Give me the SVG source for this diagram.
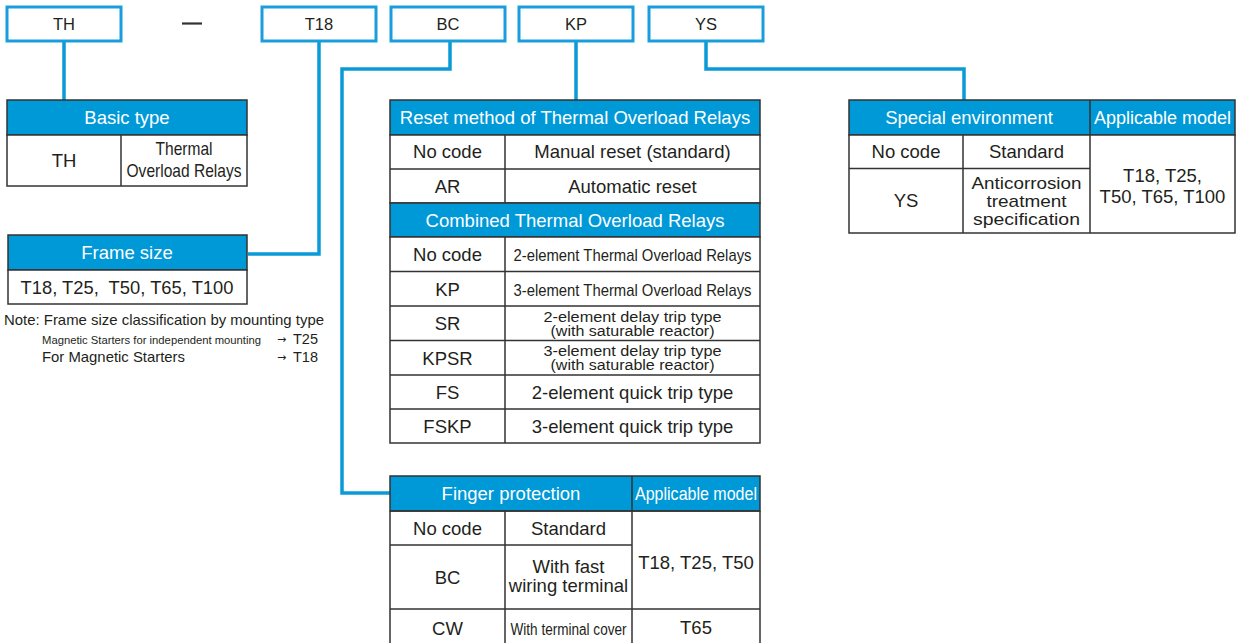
<svg xmlns="http://www.w3.org/2000/svg" width="1239" height="643" viewBox="0 0 1239 643">
<style>
text{font-family:"Liberation Sans",Arial,sans-serif;fill:#231f20;text-anchor:middle}
.code{font-size:16.5px}
.h{font-size:18.5px;fill:#fff}
.b{font-size:18.5px}
.s{font-size:14px}
.n{font-size:14.5px;text-anchor:start}
.ar{font-family:"DejaVu Sans",sans-serif;font-size:11px;text-anchor:start}
.top{fill:#fff;stroke:#1a9edb;stroke-width:3}
.hd{fill:#0099d8;stroke:#333;stroke-width:1.5}
.cell{fill:#fff;stroke:#333;stroke-width:1.5}
.ln{stroke:#333;stroke-width:1.5;fill:none}
.con{fill:none;stroke:#0a9ad8;stroke-width:3.5}
</style>
<rect width="1239" height="643" fill="#fff"/>

<g id="connectors">
<path class="con" d="M64 41V100"/>
<path class="con" d="M319 41V254H248"/>
<path class="con" d="M450 41V69H342V493H390"/>
<path class="con" d="M576 41V100"/>
<path class="con" d="M706 41V69H964V100"/>
</g>

<g id="code-TH"><rect class="top" x="7" y="7" width="114" height="34"/><text class="code" x="64" y="30">TH</text></g>
<g id="dash"><line x1="182" y1="23.5" x2="202" y2="23.5" stroke="#333" stroke-width="2.2"/></g>
<g id="code-T18"><rect class="top" x="262" y="7" width="114" height="34"/><text class="code" x="319" y="30">T18</text></g>
<g id="code-BC"><rect class="top" x="391" y="7" width="114" height="34"/><text class="code" x="448" y="30">BC</text></g>
<g id="code-KP"><rect class="top" x="519" y="7" width="114" height="34"/><text class="code" x="576" y="30">KP</text></g>
<g id="code-YS"><rect class="top" x="649" y="7" width="114" height="34"/><text class="code" x="706" y="30">YS</text></g>

<g id="basic-type">
<rect class="hd" x="7" y="100" width="240" height="35"/>
<text class="h" x="127" y="124">Basic type</text>
<rect class="cell" x="7" y="135" width="240" height="51"/>
<path class="ln" d="M121 135V186"/>
<text class="b" x="64" y="167">TH</text>
<text class="b" x="184" y="155" textLength="57" lengthAdjust="spacingAndGlyphs">Thermal</text>
<text class="b" x="184" y="177" textLength="115" lengthAdjust="spacingAndGlyphs">Overload Relays</text>
</g>

<g id="frame-size">
<rect class="hd" x="8" y="235" width="239" height="35"/>
<text class="h" x="127" y="259">Frame size</text>
<rect class="cell" x="8" y="270" width="239" height="34"/>
<text class="b" x="127" y="294" style="white-space:pre" textLength="213" lengthAdjust="spacingAndGlyphs">T18, T25,  T50, T65, T100</text>
</g>

<g id="note">
<text class="n" x="4" y="325" textLength="320" lengthAdjust="spacingAndGlyphs">Note: Frame size classification by mounting type</text>
<text class="n" x="42" y="344" style="font-size:11.5px" textLength="219" lengthAdjust="spacingAndGlyphs">Magnetic Starters for independent mounting</text>
<text class="ar" x="277" y="343">→</text>
<text class="n" x="293" y="344">T25</text>
<text class="n" x="42" y="362" textLength="143" lengthAdjust="spacingAndGlyphs">For Magnetic Starters</text>
<text class="ar" x="277" y="361">→</text>
<text class="n" x="293" y="362">T18</text>
</g>

<g id="reset-method">
<rect class="hd" x="390" y="100" width="370" height="35"/>
<text class="h" x="575" y="124">Reset method of Thermal Overload Relays</text>
<rect class="cell" x="390" y="135" width="370" height="68"/>
<path class="ln" d="M390 169H760M505 135V203"/>
<text class="b" x="447.5" y="158">No code</text>
<text class="b" x="632.5" y="158">Manual reset (standard)</text>
<text class="b" x="447.5" y="192.5">AR</text>
<text class="b" x="632.5" y="192.5">Automatic reset</text>
<rect class="hd" x="390" y="203" width="370" height="34"/>
<text class="h" x="575" y="227">Combined Thermal Overload Relays</text>
<rect class="cell" x="390" y="237" width="370" height="206"/>
<path class="ln" d="M390 271.5H760M390 306H760M390 340.5H760M390 375H760M390 409H760M505 237V443"/>
<text class="b" x="447.5" y="261">No code</text>
<text class="b" x="632.5" y="261" style="font-size:17px" textLength="238" lengthAdjust="spacingAndGlyphs">2-element Thermal Overload Relays</text>
<text class="b" x="447.5" y="295.5">KP</text>
<text class="b" x="632.5" y="295.5" style="font-size:17px" textLength="238" lengthAdjust="spacingAndGlyphs">3-element Thermal Overload Relays</text>
<text class="b" x="447.5" y="330">SR</text>
<text class="s" x="632.5" y="321.5" textLength="178" lengthAdjust="spacingAndGlyphs">2-element delay trip type</text>
<text class="s" x="632.5" y="335.5" textLength="164" lengthAdjust="spacingAndGlyphs">(with saturable reactor)</text>
<text class="b" x="447.5" y="364.5">KPSR</text>
<text class="s" x="632.5" y="355.5" textLength="178" lengthAdjust="spacingAndGlyphs">3-element delay trip type</text>
<text class="s" x="632.5" y="369.5" textLength="164" lengthAdjust="spacingAndGlyphs">(with saturable reactor)</text>
<text class="b" x="447.5" y="399">FS</text>
<text class="b" x="632.5" y="399">2-element quick trip type</text>
<text class="b" x="447.5" y="433">FSKP</text>
<text class="b" x="632.5" y="433">3-element quick trip type</text>
</g>

<g id="special-environment">
<rect class="hd" x="849" y="100" width="386" height="35"/>
<path class="ln" d="M1090 100V135"/>
<text class="h" x="969" y="124">Special environment</text>
<text class="h" x="1162.5" y="124" style="font-size:18px">Applicable model</text>
<rect class="cell" x="849" y="135" width="386" height="98"/>
<path class="ln" d="M849 168.5H1090M963 135V233M1090 135V233"/>
<text class="b" x="906" y="158">No code</text>
<text class="b" x="1026.5" y="158">Standard</text>
<text class="b" x="906" y="207">YS</text>
<text class="b" x="1026.5" y="188.5" style="font-size:17px" textLength="110" lengthAdjust="spacingAndGlyphs">Anticorrosion</text>
<text class="b" x="1026.5" y="206.5" style="font-size:17px" textLength="80" lengthAdjust="spacingAndGlyphs">treatment</text>
<text class="b" x="1026.5" y="224.5" style="font-size:17px" textLength="107" lengthAdjust="spacingAndGlyphs">specification</text>
<text class="b" x="1162.5" y="182">T18, T25,</text>
<text class="b" x="1162.5" y="203">T50, T65, T100</text>
</g>

<g id="finger-protection">
<rect class="hd" x="390" y="476" width="370" height="35"/>
<path class="ln" d="M632 476V511"/>
<text class="h" x="511" y="500">Finger protection</text>
<text class="h" x="696" y="500" textLength="122" lengthAdjust="spacingAndGlyphs">Applicable model</text>
<path class="ln" d="M390 511V650M760 511V650M390 511H760M390 545H632M390 609H760M505 511V650M632 511V650"/>
<text class="b" x="447.5" y="534.5">No code</text>
<text class="b" x="568.5" y="534.5">Standard</text>
<text class="b" x="447.5" y="584">BC</text>
<text class="b" x="568.5" y="573">With fast</text>
<text class="b" x="568.5" y="592">wiring terminal</text>
<text class="b" x="696" y="569">T18, T25, T50</text>
<text class="b" x="447.5" y="635">CW</text>
<text class="b" x="568.5" y="635" style="font-size:16px" textLength="116" lengthAdjust="spacingAndGlyphs">With terminal cover</text>
<text class="b" x="696" y="634">T65</text>
</g>
</svg>
